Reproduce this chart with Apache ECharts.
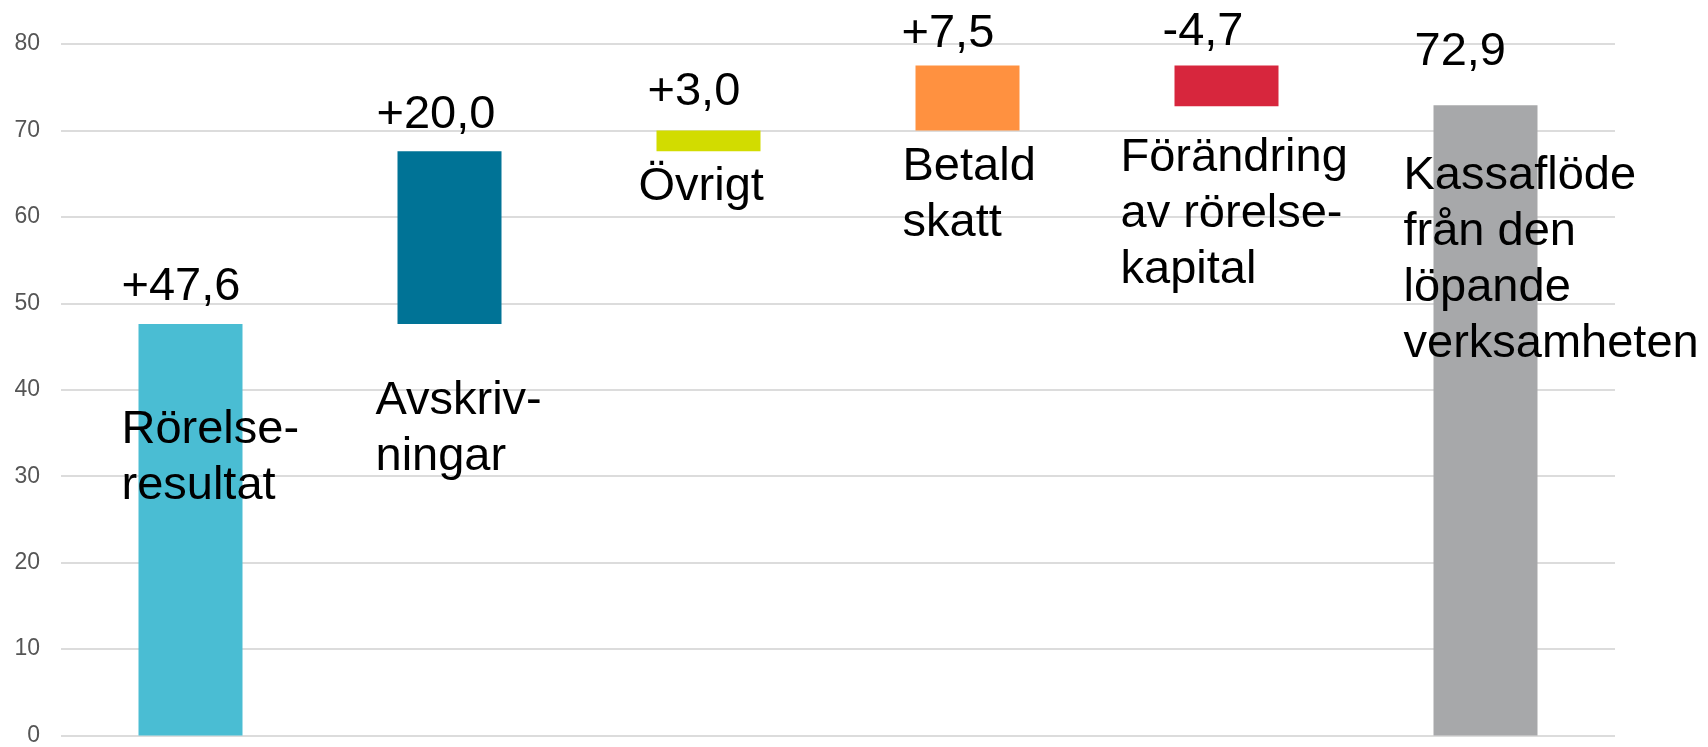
<!DOCTYPE html>
<html>
<head>
<meta charset="utf-8">
<title>Kassaflöde</title>
<script src="https://cdn.jsdelivr.net/npm/echarts@6/dist/echarts.min.js"></script>
<style>
  html, body { margin: 0; padding: 0; background: #fff; }
  #chart { width: 1708px; height: 747px; }
</style>
</head>
<body>
<div id="chart"></div>
<script>
// kategorier (namn under/inne i stapeln)
const categories = [
  'Rörelse-\nresultat',
  'Avskriv-\nningar',
  'Övrigt',
  'Betald\nskatt',
  'Förändring\nav rörelse-\nkapital',
  'Kassaflöde\nfrån den\nlöpande\nverksamheten'
];
// etiketter ovanför staplarna
const valueLabels = ['+47,6', '+20,0', '+3,0', '+7,5', '-4,7', '72,9'];
// vattenfall: osynlig bas + synlig del
const barBase = [0, 47.6, 67.6, 70.0, 72.8, 0];
const barSize = [47.6, 20.0, 2.4, 7.5, 4.7, 72.9];
// y-axelns skala
const yMin = 0;
const yMax = 80;
const yStep = 10;

const barColors = ['#4abdd3', '#007396', '#d2dc00', '#ff9140', '#d7263d', '#a7a8aa'];
// label offsets [dx, dy] per stapel
const valueOffsets = [[-69, -9], [-73, -8], [-61, -10], [-66, -4], [-64, -6], [-71, -25]];
const nameOffsets = [[-69, 78], [-74, 222], [-70, 29], [-65, 73], [-106, 64], [-82, 43]];

const FONT = "'Liberation Sans', Arial, sans-serif";

let myChart = echarts.init(document.getElementById('chart'));
let totals = barBase.map((b, i) => +(b + barSize[i]).toFixed(1));

let options = {
  animation: false,
  textStyle: { fontFamily: FONT },
  grid: { left: 61, right: 93, top: 44, bottom: 9, containLabel: false },
  xAxis: {
    type: 'category',
    data: categories,
    axisLine: { show: false },
    axisTick: { show: false },
    axisLabel: { show: false },
    splitLine: { show: false }
  },
  yAxis: {
    type: 'value',
    min: yMin,
    max: yMax,
    interval: yStep,
    axisLine: { show: false },
    axisTick: { show: false },
    axisLabel: { color: '#555555', fontSize: 23, margin: 21, fontFamily: FONT },
    splitLine: { lineStyle: { color: '#dcdcdc', width: 2 } }
  },
  series: [
    {
      name: 'bas',
      type: 'bar',
      stack: 'w',
      barWidth: 104,
      silent: true,
      itemStyle: { color: 'transparent' },
      data: barBase
    },
    {
      name: 'förändring',
      type: 'bar',
      stack: 'w',
      barWidth: 104,
      silent: true,
      data: barSize.map((v, i) => ({
        value: v,
        itemStyle: { color: barColors[i] },
        label: {
          show: true,
          position: 'top',
          distance: 0,
          align: 'left',
          offset: valueOffsets[i],
          formatter: () => valueLabels[i]
        }
      })),
      label: { fontSize: 47, lineHeight: 56, color: '#000', fontFamily: FONT }
    },
    {
      // genomskinlig kopia som bär kategorinamnen
      name: 'namn',
      type: 'bar',
      barWidth: 104,
      barGap: '-100%',
      silent: true,
      itemStyle: { color: 'transparent' },
      data: totals.map((v, i) => ({
        value: v,
        label: {
          show: true,
          position: 'insideTop',
          distance: 0,
          align: 'left',
          offset: nameOffsets[i],
          formatter: () => categories[i]
        }
      })),
      label: { fontSize: 47, lineHeight: 56, color: '#000', fontFamily: FONT },
      z: 5
    }
  ]
};

myChart.setOption(options);
</script>
</body>
</html>
